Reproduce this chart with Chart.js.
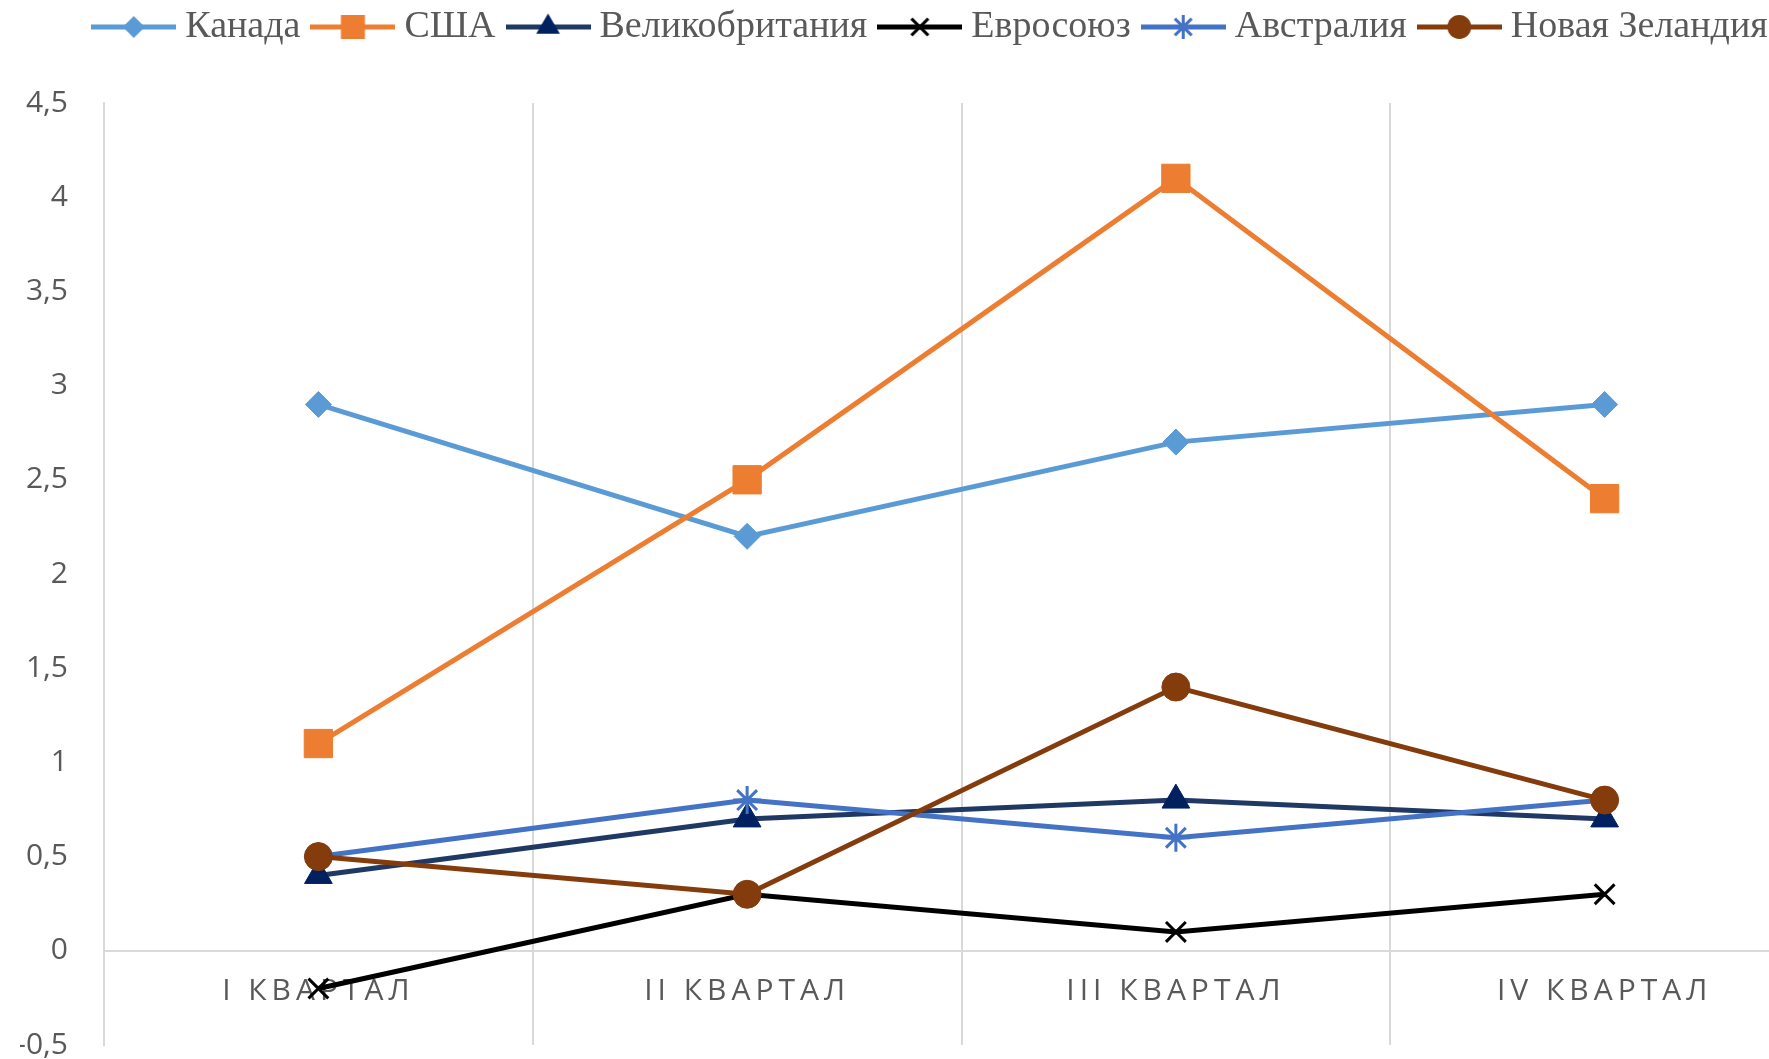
<!DOCTYPE html>
<html lang="ru">
<head>
<meta charset="utf-8">
<script src="https://cdn.jsdelivr.net/npm/chart.js@4/dist/chart.umd.min.js"></script>
<style>
  html, body { margin: 0; padding: 0; background: #fff; overflow: hidden; }
  #wrap { width: 1856px; height: 1066px; }
</style>
</head>
<body>
<div id="wrap"><canvas id="quarterChart"></canvas></div>
<script>
// Quarterly data
const quarters = ['I КВАРТАЛ', 'II КВАРТАЛ', 'III КВАРТАЛ', 'IV КВАРТАЛ'];
const countries = ['Канада', 'США', 'Великобритания', 'Евросоюз', 'Австралия', 'Новая Зеландия'];
const canada = [2.9, 2.2, 2.7, 2.9];
const usa = [1.1, 2.5, 4.1, 2.4];
const uk = [0.4, 0.7, 0.8, 0.7];
const eu = [-0.2, 0.3, 0.1, 0.3];
const australia = [0.5, 0.8, 0.6, 0.8];
const newZealand = [0.5, 0.3, 1.4, 0.8];
const yTicks = [-0.5, 0, 0.5, 1, 1.5, 2, 2.5, 3, 3.5, 4, 4.5];

const seriesValues = [canada, usa, uk, eu, australia, newZealand];
const lineColors = ['#5B9BD5', '#ED7D31', '#1F3864', '#000000', '#4472C4', '#843C0C'];
const markerColors = ['#5B9BD5', '#ED7D31', '#002060', '#000000', '#4472C4', '#843C0C'];
const markerStyles = ['rectRot', 'rect', 'triangle', 'crossRot', 'star', 'circle'];
const markerRadius = [13, 20, 16, 14, 14, 14];

const gridColor = '#D9D9D9';
const textColor = '#595959';

// small marker drawing for legend icons (line + marker)
function drawMarker(ctx, style, x, y, r, color) {
    ctx.fillStyle = color;
    ctx.strokeStyle = color;
    ctx.beginPath();
    if (style === 'rectRot') {
        ctx.moveTo(x, y - r); ctx.lineTo(x + r, y); ctx.lineTo(x, y + r); ctx.lineTo(x - r, y);
        ctx.closePath(); ctx.fill();
    } else if (style === 'rect') {
        const s = r * Math.SQRT1_2;
        ctx.rect(x - s, y - s, 2 * s, 2 * s); ctx.fill();
    } else if (style === 'triangle') {
        ctx.moveTo(x, y - r); ctx.lineTo(x + r * 0.87, y + r * 0.5); ctx.lineTo(x - r * 0.87, y + r * 0.5);
        ctx.closePath(); ctx.fill();
    } else if (style === 'crossRot') {
        const s = r * Math.SQRT1_2;
        ctx.lineWidth = 3;
        ctx.moveTo(x - s, y - s); ctx.lineTo(x + s, y + s);
        ctx.moveTo(x + s, y - s); ctx.lineTo(x - s, y + s); ctx.stroke();
    } else if (style === 'star') {
        const s = r * Math.SQRT1_2;
        ctx.lineWidth = 3;
        ctx.moveTo(x, y - r); ctx.lineTo(x, y + r);
        ctx.moveTo(x - r, y); ctx.lineTo(x + r, y);
        ctx.moveTo(x - s, y - s); ctx.lineTo(x + s, y + s);
        ctx.moveTo(x + s, y - s); ctx.lineTo(x - s, y + s); ctx.stroke();
    } else {
        ctx.arc(x, y, r, 0, Math.PI * 2); ctx.fill();
    }
}

const iconWidth = 85;
function legendIcon(i) {
    const c = document.createElement('canvas');
    c.width = iconWidth; c.height = 34;
    const ctx = c.getContext('2d');
    ctx.strokeStyle = lineColors[i];
    ctx.lineWidth = 5;
    ctx.beginPath();
    ctx.moveTo(0, 17); ctx.lineTo(iconWidth, 17);
    ctx.stroke();
    drawMarker(ctx, markerStyles[i], iconWidth / 2, 17, markerRadius[i] * 0.85, markerColors[i]);
    return c;
}
const legendIcons = countries.map((c, i) => legendIcon(i));

// wider letter spacing for the category labels, taller + nudged legend box
const layoutTweaks = {
    id: 'layoutTweaks',
    beforeInit(chart) {
        const lg = chart.legend;
        if (lg && !lg.__patched) {
            const fit = lg.fit;
            lg.fit = function () {
                fit.call(this);
                this.height = 119;
            };
            lg.__patched = true;
        }
    },
    afterLayout(chart) {
        const lg = chart.legend;
        if (!lg) return;
        lg.left += 15; lg.right += 15;
        lg.top += 4; lg.bottom += 4;
    },
    beforeDraw(chart) {
        const sc = chart.scales.x;
        if (sc.__spaced) return;
        const orig = sc.drawLabels;
        sc.drawLabels = function (area) {
            this.ctx.save();
            this.ctx.letterSpacing = '5px';
            orig.call(this, area);
            this.ctx.restore();
        };
        sc.__spaced = true;
    }
};

const datasets = countries.map((name, i) => ({
    label: name,
    data: seriesValues[i],
    borderColor: lineColors[i],
    backgroundColor: markerColors[i],
    pointBackgroundColor: markerColors[i],
    pointBorderColor: markerColors[i],
    pointStyle: markerStyles[i],
    pointRadius: markerRadius[i],
    pointBorderWidth: (markerStyles[i] === 'crossRot' || markerStyles[i] === 'star') ? 3 : 1,
    borderWidth: 5,
    tension: 0,
    order: countries.length - i
}));

new Chart(document.getElementById('quarterChart').getContext('2d'), {
    type: 'line',
    data: { labels: quarters, datasets },
    plugins: [layoutTweaks],
    options: {
        responsive: true,
        maintainAspectRatio: false,
        animation: false,
        layout: { padding: { left: 20, right: 37, top: -16, bottom: 3 } },
        plugins: {
            tooltip: { enabled: false },
            legend: {
                position: 'top',
                labels: {
                    usePointStyle: true,
                    pointStyleWidth: iconWidth - 20,
                    padding: 20,
                    color: textColor,
                    font: { family: 'Liberation Serif', size: 38 },
                    generateLabels: chart => chart.data.datasets.map((ds, i) => ({
                        text: ds.label,
                        pointStyle: legendIcons[i],
                        fillStyle: markerColors[i],
                        strokeStyle: lineColors[i],
                        lineWidth: 0,
                        fontColor: textColor,
                        hidden: false,
                        datasetIndex: i
                    }))
                }
            }
        },
        scales: {
            x: {
                position: { y: 0 },
                offset: true,
                grid: { offset: true, color: gridColor, lineWidth: 2, drawTicks: false },
                border: { color: gridColor, width: 2 },
                ticks: { color: textColor, font: { family: 'Open Sans', size: 30 }, padding: 23, maxRotation: 0 },
                afterFit: scale => { scale.paddingLeft = 0; scale.paddingRight = 0; }
            },
            y: {
                min: yTicks[0],
                max: yTicks[yTicks.length - 1],
                grid: { display: false, drawTicks: false },
                border: { color: gridColor, width: 2 },
                afterBuildTicks: scale => { scale.ticks = yTicks.map(v => ({ value: v })); },
                afterFit: scale => { scale.width = 84; scale.paddingTop = 0; scale.paddingBottom = 0; },
                ticks: {
                    color: textColor,
                    font: { family: 'Open Sans', size: 30 },
                    padding: 36,
                    callback: v => String(v).replace('.', ',')
                }
            }
        }
    }
});
</script>
</body>
</html>
